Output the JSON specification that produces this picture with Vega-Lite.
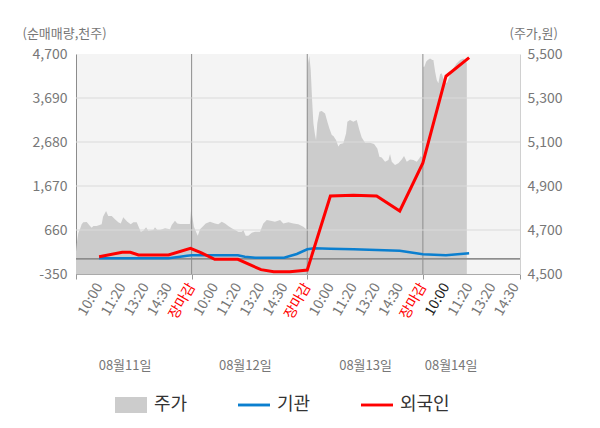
{
  "$schema": "https://vega.github.io/schema/vega-lite/v6.json",
  "width": 444,
  "height": 220,
  "autosize": {"type": "none"},
  "padding": {"left": 76, "top": 54, "right": 80, "bottom": 154},
  "background": "#ffffff",
  "config": {
    "font": "Noto Sans CJK KR",
    "view": {"fill": "#f4f4f4", "stroke": null},
    "axis": {"grid": false, "labelFontWeight": "normal", "titleFontWeight": "normal"}
  },
  "datasets": {
    "price": [
      {"u": 0, "p": 4601}, {"u": 0.9, "p": 4647}, {"u": 2, "p": 4686}, {"u": 3.5, "p": 4705},
      {"u": 4.9, "p": 4726}, {"u": 6.3, "p": 4735}, {"u": 9.3, "p": 4736}, {"u": 12.1, "p": 4718},
      {"u": 13.6, "p": 4710}, {"u": 15, "p": 4718}, {"u": 17.9, "p": 4718}, {"u": 22.2, "p": 4726},
      {"u": 23.4, "p": 4760}, {"u": 26, "p": 4786}, {"u": 27.9, "p": 4764}, {"u": 30.9, "p": 4764},
      {"u": 33.7, "p": 4749}, {"u": 36.6, "p": 4735}, {"u": 38.7, "p": 4730}, {"u": 40.9, "p": 4758},
      {"u": 42.4, "p": 4749}, {"u": 44.4, "p": 4738}, {"u": 47.3, "p": 4726}, {"u": 49.6, "p": 4735},
      {"u": 52.5, "p": 4735}, {"u": 53.9, "p": 4718}, {"u": 56, "p": 4692}, {"u": 58.2, "p": 4697},
      {"u": 60.6, "p": 4712}, {"u": 62.5, "p": 4697}, {"u": 66.9, "p": 4700}, {"u": 68.3, "p": 4712},
      {"u": 70.3, "p": 4700}, {"u": 72.7, "p": 4700}, {"u": 77, "p": 4708}, {"u": 81.3, "p": 4703},
      {"u": 82.8, "p": 4723}, {"u": 85.6, "p": 4742}, {"u": 87.6, "p": 4730}, {"u": 90, "p": 4727},
      {"u": 98.5, "p": 4727}, {"u": 99.6, "p": 4795}, {"u": 100.6, "p": 4760}, {"u": 102, "p": 4715},
      {"u": 103.8, "p": 4692}, {"u": 105.3, "p": 4674}, {"u": 107.3, "p": 4703}, {"u": 110.1, "p": 4718},
      {"u": 112.2, "p": 4730}, {"u": 115.9, "p": 4738}, {"u": 120.2, "p": 4730}, {"u": 123.1, "p": 4726},
      {"u": 126, "p": 4738}, {"u": 128.9, "p": 4730}, {"u": 131.7, "p": 4718}, {"u": 134.7, "p": 4708},
      {"u": 137.5, "p": 4700}, {"u": 140.4, "p": 4692}, {"u": 143.3, "p": 4692}, {"u": 144.7, "p": 4700},
      {"u": 146.8, "p": 4674}, {"u": 149, "p": 4674}, {"u": 152, "p": 4688}, {"u": 154.8, "p": 4692},
      {"u": 159.2, "p": 4692}, {"u": 162, "p": 4730}, {"u": 165, "p": 4745}, {"u": 169.3, "p": 4741},
      {"u": 172.1, "p": 4738}, {"u": 176.5, "p": 4745}, {"u": 179.3, "p": 4730}, {"u": 183.7, "p": 4735},
      {"u": 188, "p": 4730}, {"u": 192.3, "p": 4726}, {"u": 196.6, "p": 4715}, {"u": 199.2, "p": 4703},
      {"u": 200, "p": 5336}, {"u": 200.7, "p": 5458}, {"u": 201.8, "p": 5491}, {"u": 203, "p": 5427},
      {"u": 204.2, "p": 5291}, {"u": 205.3, "p": 5185}, {"u": 206.5, "p": 5140}, {"u": 207.6, "p": 5109},
      {"u": 208.7, "p": 5185}, {"u": 210.5, "p": 5238}, {"u": 212.5, "p": 5241}, {"u": 215.4, "p": 5230},
      {"u": 217.4, "p": 5192}, {"u": 219.1, "p": 5162}, {"u": 221.2, "p": 5132}, {"u": 222.6, "p": 5127},
      {"u": 224.9, "p": 5109}, {"u": 226.9, "p": 5079}, {"u": 228.4, "p": 5091}, {"u": 231.2, "p": 5094},
      {"u": 233.6, "p": 5140}, {"u": 234.7, "p": 5192}, {"u": 237, "p": 5200}, {"u": 239.9, "p": 5192},
      {"u": 242.8, "p": 5200}, {"u": 245.1, "p": 5154}, {"u": 247.1, "p": 5121}, {"u": 250, "p": 5097},
      {"u": 254.3, "p": 5097}, {"u": 257.8, "p": 5091}, {"u": 260.6, "p": 5071}, {"u": 262.4, "p": 5033},
      {"u": 264.4, "p": 5030}, {"u": 267.3, "p": 5010}, {"u": 270.2, "p": 5018}, {"u": 271.6, "p": 5045},
      {"u": 273.1, "p": 5010}, {"u": 275.9, "p": 4995}, {"u": 278.8, "p": 5003}, {"u": 281.7, "p": 5021},
      {"u": 283.7, "p": 5036}, {"u": 286.1, "p": 5010}, {"u": 288.9, "p": 5021}, {"u": 291.8, "p": 5018},
      {"u": 294.7, "p": 5010}, {"u": 297, "p": 5026}, {"u": 298.2, "p": 5036}, {"u": 299.5, "p": 5030},
      {"u": 300.2, "p": 5442}, {"u": 301.3, "p": 5442}, {"u": 302.8, "p": 5465}, {"u": 304.2, "p": 5473},
      {"u": 306.2, "p": 5480}, {"u": 308.2, "p": 5473}, {"u": 309.1, "p": 5473}, {"u": 310.6, "p": 5419},
      {"u": 312, "p": 5382}, {"u": 313.4, "p": 5367}, {"u": 314.9, "p": 5408}, {"u": 316.3, "p": 5412},
      {"u": 317.7, "p": 5389}, {"u": 320.7, "p": 5367}, {"u": 323.5, "p": 5404}, {"u": 325, "p": 5412},
      {"u": 326.4, "p": 5435}, {"u": 329.3, "p": 5458}, {"u": 332.2, "p": 5473}, {"u": 335, "p": 5480},
      {"u": 337.1, "p": 5468}, {"u": 338, "p": 5458}
    ],
    "foreign": [
      {"u": 20, "v": 47}, {"u": 40, "v": 150}, {"u": 47, "v": 150}, {"u": 54, "v": 86},
      {"u": 60, "v": 86}, {"u": 80, "v": 86}, {"u": 99, "v": 240}, {"u": 108, "v": 140},
      {"u": 120, "v": -13}, {"u": 140, "v": -13}, {"u": 160, "v": -250}, {"u": 171, "v": -297},
      {"u": 185, "v": -297}, {"u": 194, "v": -275}, {"u": 200, "v": -258}, {"u": 220, "v": 1440},
      {"u": 240, "v": 1460}, {"u": 260, "v": 1440}, {"u": 280, "v": 1096}, {"u": 300, "v": 2200},
      {"u": 320, "v": 4190}, {"u": 340, "v": 4615}
    ],
    "inst": [
      {"u": 20, "v": 10}, {"u": 80, "v": 10}, {"u": 90, "v": 47}, {"u": 96, "v": 70},
      {"u": 100, "v": 79}, {"u": 140, "v": 79}, {"u": 146, "v": 47}, {"u": 155, "v": 24},
      {"u": 180, "v": 24}, {"u": 185, "v": 63}, {"u": 191, "v": 109}, {"u": 200, "v": 217},
      {"u": 206, "v": 240}, {"u": 220, "v": 231}, {"u": 240, "v": 217}, {"u": 260, "v": 201},
      {"u": 280, "v": 185}, {"u": 300, "v": 102}, {"u": 320, "v": 79}, {"u": 340, "v": 125}
    ],
    "grid": [{"g": 660}, {"g": 1670}, {"g": 2680}, {"g": 3690}],
    "days": [{"d": 100}, {"d": 200}, {"d": 300}],
    "legend": [{"s": "주가", "v": -3000}, {"s": "기관", "v": -3000}, {"s": "외국인", "v": -3000}]
  },
  "layer": [
    {
      "data": {"name": "price"},
      "mark": {"type": "area", "color": "#cccccc", "interpolate": "linear"},
      "encoding": {
        "x": {
          "field": "u", "type": "quantitative",
          "scale": {"domain": [0, 384], "nice": false, "zero": false},
          "axis": {
            "title": null,
            "values": [0, 20, 40, 60, 80, 100, 120, 140, 160, 180, 200, 220, 240, 260, 280, 300, 320, 340, 360, 380, 384],
            "labelExpr": "datum.value == 0 || datum.value == 384 ? '' : datum.value % 100 == 0 ? '장마감' : datum.value % 100 == 20 ? '10:00' : datum.value % 100 == 40 ? '11:20' : datum.value % 100 == 60 ? '13:20' : '14:30'",
            "labelAngle": -60,
            "labelFontSize": 14,
            "labelColor": {
              "condition": [
                {"test": "datum.value % 100 == 0", "value": "#ff0000"},
                {"test": "datum.value == 320", "value": "#222222"}
              ],
              "value": "#777777"
            },
            "labelOverlap": false,
            "labelFlush": false,
            "labelBound": false,
            "labelPadding": 5,
            "tickSize": 5,
            "tickColor": "#999999",
            "tickOpacity": {
              "condition": {"test": "datum.value % 100 == 0 || datum.value == 384", "value": 1},
              "value": 0
            },
            "domainColor": "#aaaaaa"
          }
        },
        "y": {
          "field": "p", "type": "quantitative",
          "scale": {"domain": [4500, 5500], "nice": false, "zero": false},
          "axis": {
            "orient": "right",
            "values": [4500, 4700, 4900, 5100, 5300, 5500],
            "labelExpr": "format(datum.value, ',')",
            "ticks": false,
            "labelPadding": 7,
            "labelFontSize": 14,
            "labelColor": "#777777",
            "domainColor": "#d0d0d0",
            "title": "(주가,원)",
            "titleAngle": 0,
            "titleX": -11,
            "titleY": -21,
            "titleAlign": "left",
            "titleBaseline": "middle",
            "titleFontSize": 13,
            "titleColor": "#777777"
          }
        },
        "y2": {"datum": 4500}
      }
    },
    {
      "data": {"name": "days"},
      "mark": {"type": "rule", "color": "#8c8c8c", "strokeWidth": 1},
      "encoding": {
        "x": {
          "field": "d", "type": "quantitative",
          "scale": {"domain": [0, 384], "nice": false, "zero": false},
          "axis": {
            "orient": "bottom",
            "title": null,
            "values": [42, 146, 250, 324],
            "labelExpr": "datum.value == 42 ? '08월11일' : datum.value == 146 ? '08월12일' : datum.value == 250 ? '08월13일' : '08월14일'",
            "labelAngle": 0,
            "labelAlign": "center",
            "labelBaseline": "middle",
            "labelFontSize": 13,
            "labelColor": "#777777",
            "labelPadding": 91,
            "labelOverlap": false,
            "labelFlush": false,
            "ticks": false,
            "domain": false
          }
        }
      }
    },
    {
      "layer": [
        {
          "data": {"name": "grid"},
          "mark": {"type": "rule", "color": "#dadada", "strokeWidth": 1},
          "encoding": {
            "y": {
              "field": "g", "type": "quantitative",
              "scale": {"domain": [-350, 4700], "nice": false, "zero": false},
              "axis": {
                "orient": "left",
                "values": [-350, 660, 1670, 2680, 3690, 4700],
                "labelExpr": "datum.value < 0 ? '-350' : format(datum.value, ',')",
                "ticks": false,
                "labelPadding": 9,
                "labelFontSize": 14,
                "labelColor": "#777777",
                "domainColor": "#8c8c8c",
                "title": "(순매매량,천주)",
                "titleAngle": 0,
                "titleX": -54,
                "titleY": -21,
                "titleAlign": "left",
                "titleBaseline": "middle",
                "titleFontSize": 13,
                "titleColor": "#777777"
              }
            }
          }
        },
        {
          "data": {"name": "grid"},
          "mark": {"type": "rule", "color": "#8c8c8c", "strokeWidth": 1},
          "encoding": {
            "y": {"datum": 0, "type": "quantitative", "scale": {"domain": [-350, 4700], "nice": false, "zero": false}}
          }
        },
        {
          "data": {"name": "inst"},
          "mark": {"type": "line", "color": "#0b7fcf", "strokeWidth": 2.5},
          "encoding": {
            "x": {"field": "u", "type": "quantitative", "scale": {"domain": [0, 384], "nice": false, "zero": false}, "axis": null},
            "y": {"field": "v", "type": "quantitative", "scale": {"domain": [-350, 4700], "nice": false, "zero": false}}
          }
        },
        {
          "data": {"name": "foreign"},
          "mark": {"type": "line", "color": "#ff0000", "strokeWidth": 3},
          "encoding": {
            "x": {"field": "u", "type": "quantitative", "scale": {"domain": [0, 384], "nice": false, "zero": false}, "axis": null},
            "y": {"field": "v", "type": "quantitative", "scale": {"domain": [-350, 4700], "nice": false, "zero": false}}
          }
        },
        {
          "data": {"name": "legend"},
          "mark": {"type": "point", "filled": true, "clip": true, "opacity": 1},
          "encoding": {
            "y": {"field": "v", "type": "quantitative", "scale": {"domain": [-350, 4700], "nice": false, "zero": false}},
            "color": {
              "field": "s", "type": "nominal",
              "scale": {"domain": ["주가", "기관", "외국인"], "range": ["#cccccc", "#0b7fcf", "#ff0000"]},
              "legend": {
                "orient": "none",
                "legendX": 39,
                "legendY": 335,
                "direction": "horizontal",
                "title": null,
                "padding": 0,
                "symbolOpacity": 1,
                "symbolSize": 1024,
                "symbolStrokeWidth": 0,
                "labelFontSize": 18,
                "labelColor": "#333333",
                "labelOffset": 7,
                "columnPadding": 50
              }
            },
            "shape": {
              "field": "s", "type": "nominal",
              "scale": {"domain": ["주가", "기관", "외국인"], "range": ["M-1,-0.5H1V0.5H-1Z", "M-1,-0.09H1V0.09H-1Z", "M-1,-0.09H1V0.09H-1Z"]}
            }
          }
        }
      ]
    }
  ],
  "resolve": {"scale": {"y": "independent"}, "axis": {"x": "independent"}}
}
